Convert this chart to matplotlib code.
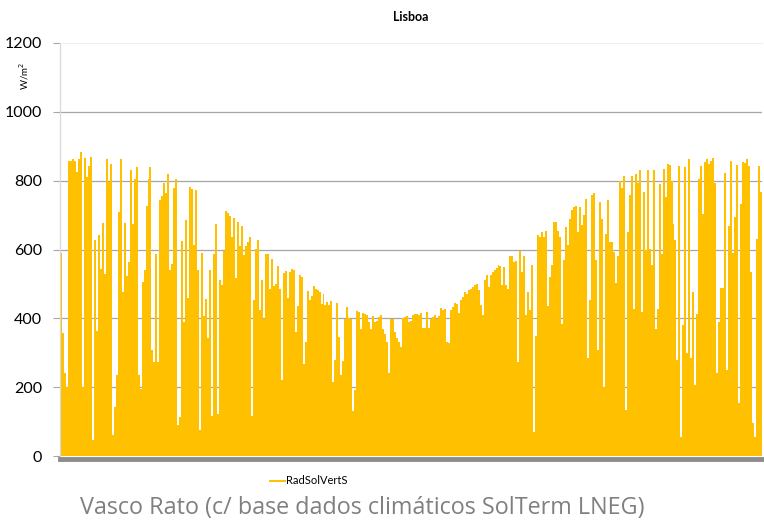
import numpy as np
import matplotlib
matplotlib.use("Agg")
import matplotlib.pyplot as plt

# Daily peak of vertical south-facing solar radiation (W/m²)
peaks_jan_feb = [590, 357, 240, 200, 858, 856, 863, 858, 824, 863, 884, 200, 867, 810, 843, 869, 46, 629,
                 363, 641, 544, 677, 529, 863, 795, 848, 61, 143, 234, 708, 863, 476, 678, 524, 563, 830,
                 674, 805, 841, 234, 196, 505, 539, 727, 805, 839, 307, 273, 587]
peaks_feb_apr = [273, 744, 754, 792, 763, 819, 539, 558, 779, 805, 90, 114, 624, 389, 686, 459, 781, 776,
                 614, 773, 541, 75, 589, 408, 457, 344, 539, 116, 586, 674, 123, 512, 497, 595, 711, 705,
                 698, 637, 691, 516, 681, 609, 667, 583, 609, 623, 637, 116, 454, 602]
peaks_apr_may = [629, 424, 512, 399, 586, 588, 485, 571, 494, 500, 553, 484, 222, 533, 537, 458, 536, 544,
                 539, 359, 437, 525, 520, 268, 330, 479, 454, 466, 494, 486, 483, 476, 443, 470, 440, 448,
                 440, 450, 215, 280, 445, 347, 234, 276, 399, 433, 400, 399, 130, 193]
peaks_jun_jul = [421, 418, 370, 415, 413, 409, 389, 370, 407, 389, 392, 404, 409, 370, 355, 331, 240, 399,
                 399, 361, 342, 331, 317, 402, 404, 406, 389, 392, 409, 413, 413, 409, 415, 373, 372, 418,
                 373, 399, 404, 409, 399, 406, 431, 425, 427, 331, 328, 425, 433, 445]
peaks_aug_sep = [443, 415, 453, 462, 476, 471, 481, 484, 490, 498, 500, 481, 440, 409, 512, 526, 490, 525,
                 534, 541, 547, 554, 551, 498, 549, 497, 485, 582, 582, 565, 568, 273, 597, 534, 582, 409,
                 476, 424, 554, 70, 350, 641, 636, 650, 636, 655, 437, 520, 554, 679]
peaks_sep_nov = [681, 655, 636, 384, 570, 666, 612, 689, 715, 723, 727, 650, 723, 672, 700, 747, 286, 453,
                 759, 763, 570, 307, 737, 689, 200, 645, 744, 623, 623, 592, 502, 580, 800, 779, 813, 133,
                 650, 759, 813, 428, 819, 792, 830, 418, 766, 599, 830, 602, 554, 830]
peaks_nov_dec = [370, 427, 790, 587, 834, 752, 848, 846, 800, 674, 627, 279, 843, 56, 380, 840, 299, 863,
                 285, 476, 206, 413, 805, 843, 703, 853, 863, 848, 858, 866, 792, 240, 389, 488, 488, 821,
                 249, 669, 858, 589, 694, 846, 153, 732, 853, 850, 863, 843, 534, 95, 56, 631, 843, 766]

values = np.array(peaks_jan_feb + peaks_feb_apr + peaks_apr_may + peaks_jun_jul +
                  peaks_aug_sep + peaks_sep_nov + peaks_nov_dec)
y_ticks = [0, 200, 400, 600, 800, 1000, 1200]
series_name = "RadSolVertS"
title = "Lisboa"
y_label = "W/m$^2$"
footer = "Vasco Rato (c/ base dados climáticos SolTerm LNEG)"

color = "#FFC000"
fig = plt.figure(figsize=(7.64, 5.23), dpi=100)
ax = fig.add_axes([60 / 764, 67 / 523, 702 / 764, 413 / 523])

x = np.arange(len(values))
ax.bar(x, values, width=1.0, align="edge", color=color, linewidth=0, antialiased=False)

ax.set_xlim(0, len(values))
ax.set_ylim(0, 1200)
ax.set_yticks(y_ticks)
ax.set_yticklabels([str(t) for t in y_ticks], fontsize=11.5, family="Lato", color="#000000")
ax.set_xticks([])
ax.tick_params(axis="y", length=5, color="#a6a6a6", width=0.8, pad=8)

for t in y_ticks[1:-1]:
    ax.axhline(t, color="#a6a6a6", lw=0.9, zorder=0)
ax.set_axisbelow(True)

ax.spines["right"].set_visible(False)
ax.spines["top"].set_color("#f0f0f0")
ax.spines["top"].set_linewidth(0.8)
ax.spines["left"].set_color("#d9d9d9")
ax.spines["left"].set_linewidth(0.9)
ax.spines["bottom"].set_color("#8c8c8c")
ax.spines["bottom"].set_linewidth(3.5)
ax.spines["bottom"].set_position(("outward", 2))

fig.text(411 / 764, 1 - 17 / 523, title, ha="center", va="center", fontsize=9,
         fontweight="bold", family="Lato")
fig.text(24 / 764, 1 - 76 / 523, y_label, ha="center", va="center", rotation=90,
         fontsize=7, family="Lato")

# legend
leg_y = 1 - 481 / 523
fig.add_artist(plt.Line2D([270 / 764, 285 / 764], [leg_y, leg_y], color=color, lw=1.4,
                          transform=fig.transFigure))
fig.text(286 / 764, leg_y, series_name, ha="left", va="center", fontsize=8, family="Lato")

fig.text(80 / 764, 1 - 508 / 523, footer, ha="left", va="center", fontsize=16.8,
         family="Open Sans", color="#808080")

fig.savefig("out.png", dpi=100)
